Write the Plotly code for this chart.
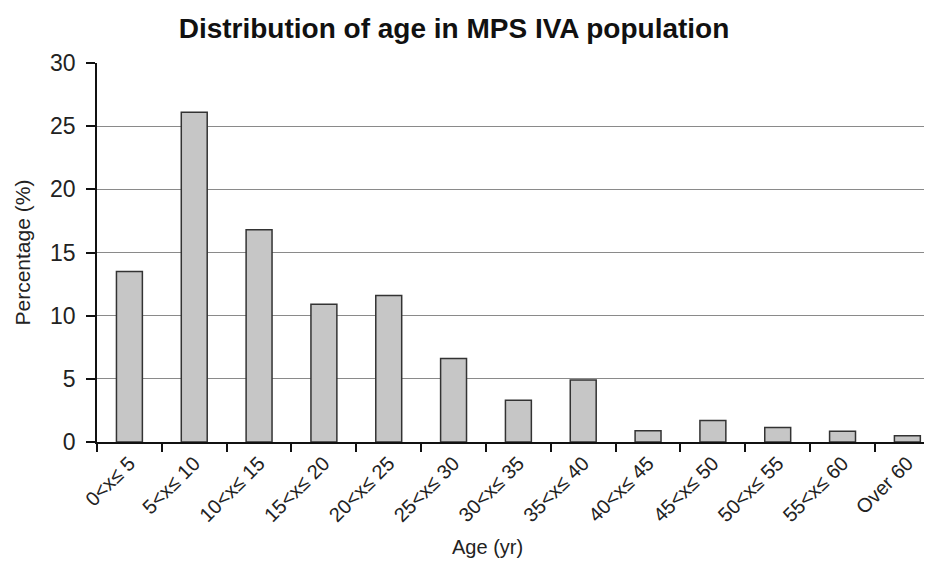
import plotly.graph_objects as go

categories = ["0<x≤ 5", "5<x≤ 10", "10<x≤ 15", "15<x≤ 20", "20<x≤ 25", "25<x≤ 30",
              "30<x≤ 35", "35<x≤ 40", "40<x≤ 45", "45<x≤ 50", "50<x≤ 55", "55<x≤ 60", "Over 60"]
percentages = [13.5, 26.1, 16.8, 10.9, 11.6, 6.6, 3.3, 4.9, 0.9, 1.7, 1.15, 0.85, 0.5]
y_ticks = [0, 5, 10, 15, 20, 25, 30]

FONT = "Liberation Sans, Arial, sans-serif"

fig = go.Figure()
fig.add_trace(go.Bar(
    x=categories, y=percentages,
    marker=dict(color="#c6c6c6", line=dict(color="#333333", width=1.5)),
))

# page body has an 8px margin: figure coordinates = window coordinates - 8
OFF = 8
W, H = 924, 553
L, R, T = 97 - OFF, 0, 63 - OFF
B = H - (442 - OFF)
plot_w = W - L - R
plot_h = H - T - B

fig.update_layout(
    width=W, height=H, autosize=False,
    margin=dict(l=L, r=R, t=T, b=B, pad=0, autoexpand=False),
    paper_bgcolor="white", plot_bgcolor="white",
    bargap=0.6,
    showlegend=False,
    font=dict(family=FONT, color="#222222"),
    title=dict(text="<b>Distribution of age in MPS IVA population</b>",
               font=dict(family=FONT, size=28, color="#111111"),
               xref="container", yref="container",
               x=(454 - OFF) / W, y=1 - (28 - OFF) / H, xanchor="center", yanchor="middle"),
    xaxis=dict(
        type="category", automargin=False,
        range=[-0.5, -0.5 + plot_w / 64.83],
        showline=True, linecolor="#111111", linewidth=1.5,
        ticks="outside", tickson="boundaries", ticklen=8, tickwidth=1.5, tickcolor="#111111",
        tickangle=-45, showgrid=False,
        tickfont=dict(family=FONT, size=20, color="#222222"),
    ),
    yaxis=dict(
        range=[0, 30], tickvals=y_ticks, automargin=False,
        showgrid=True, gridcolor="#8a8a8a", gridwidth=1.2,
        showline=True, linecolor="#111111", linewidth=1.5, zeroline=False,
        ticks="outside", ticklen=9, tickwidth=1.5, tickcolor="#111111",
        ticklabelstandoff=6,
        tickfont=dict(family=FONT, size=23, color="#222222"),
    ),
    annotations=[
        dict(text="Percentage (%)", xref="paper", yref="paper",
             x=(22 - OFF - L) / plot_w, y=0.5, textangle=-90, showarrow=False,
             xanchor="center", yanchor="middle",
             font=dict(family=FONT, size=21, color="#222222")),
        dict(text="Age (yr)", xref="paper", yref="paper",
             x=(487 - OFF - L) / plot_w, y=(442 - 547) / plot_h, showarrow=False,
             xanchor="center", yanchor="middle",
             font=dict(family=FONT, size=20, color="#222222")),
    ],
)

fig.write_html("out.html")
